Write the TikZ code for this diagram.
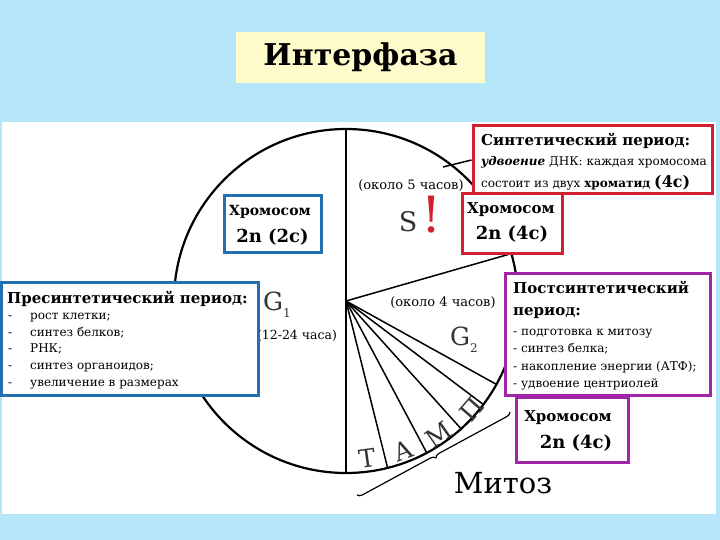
\documentclass[tikz,border=0pt]{standalone}
\usepackage{fontspec}
\setmainfont{DejaVu Serif}
\usetikzlibrary{decorations.pathreplacing}
\definecolor{skyback}{HTML}{B5E6F8}
\definecolor{titlefill}{HTML}{FFFCCC}
\definecolor{synred}{HTML}{D2202E}
\definecolor{preblue}{HTML}{2270B0}
\definecolor{postpurple}{HTML}{A426A8}
\definecolor{phasegrey}{HTML}{333333}

\begin{document}
\begin{tikzpicture}[x=1pt,y=-1pt,
   periodbox/.style={draw=#1,line width=3pt,fill=white,inner sep=0pt},
   sector/.style={line width=1.5pt},
   phase/.style={text=phasegrey,inner sep=0pt,font=\fontsize{25}{25}\selectfont},
   mitlbl/.style={phase,font=\fontsize{25}{25}\selectfont},
   hours/.style={inner sep=0pt,anchor=base,font=\fontsize{13}{13}\selectfont},
   boxhead/.style={inner sep=0pt,anchor=base west,font=\bfseries\fontsize{15}{15}\selectfont},
   listline/.style={inner sep=0pt,anchor=base west,font=\fontsize{12}{12}\selectfont},
   chromo/.style={inner sep=0pt,anchor=base,font=\bfseries\fontsize{15}{15}\selectfont},
   ploidy/.style={inner sep=0pt,anchor=base,font=\bfseries\fontsize{18}{18}\selectfont}]
\useasboundingbox (0,0) rectangle (720,540);
\fill[skyback] (0,0) rectangle (720,540);
\fill[white] (2,122) rectangle (716,514);

\node[fill=titlefill,minimum width=249pt,minimum height=51pt,inner sep=0pt,
      font=\bfseries\fontsize{30}{30}\selectfont] (title) at (360.5,57.5) {Интерфаза};

\coordinate (O) at (346,301);
\draw[line width=2.2pt] (O) circle[radius=172pt];
\draw[sector] (O) -- ++(-90:172);
\draw[sector] (O) -- ++(90:172);
\draw[sector] (O) -- ++(-16:172);
\foreach \a in {29,37,48,62,76}
   \draw[sector] (O) -- ++(\a:172);

\node[phase,font=\fontsize{27}{27}\selectfont] (S) at (408,222) {S};
\node[text=synred,inner sep=0pt,font=\fontsize{50}{50}\selectfont] (excl) at (432,215) {!};
\node[phase,anchor=base west] (G1) at (263,310) {G\raisebox{-7pt}{\fontsize{12}{12}\selectfont 1}};
\node[phase,anchor=base west] (G2) at (450,345) {G\raisebox{-7pt}{\fontsize{12}{12}\selectfont 2}};
\node[hours] (hS) at (411,190) {(около 5 часов)};
\node[hours] (hG2) at (443,306) {(около 4 часов)};
\node[hours,font=\fontsize{12.5}{12.5}\selectfont] (hG1) at (297,339) {(12-24 часа)};

\node[mitlbl,rotate=49] (pro) at (472,409) {П};
\node[mitlbl,rotate=35] (meta) at (439,435) {М};
\node[mitlbl,rotate=20] (ana) at (403,451) {А};
\node[mitlbl,rotate=8] (telo) at (367,458) {Т};

\draw[line width=1.2pt,decorate,decoration={brace,amplitude=5pt}] (510,412) -- (357,495);
\node[inner sep=0pt,anchor=base,font=\fontsize{29}{29}\selectfont] (mitosis) at (503,493) {Митоз};

\node[periodbox=preblue,minimum width=97pt,minimum height=56pt] (chromG1) at (272.5,224) {};
\node[chromo,font=\bfseries\fontsize{14}{14}\selectfont] at (270,215) {Хромосом};
\node[ploidy] at (272.5,243) {2n (2c)};

\node[periodbox=preblue,minimum width=256.5pt,minimum height=113pt] (prebox) at (129.75,338.5) {};
\node[boxhead] (prehead) at (7,303) {Пресинтетический период:};
\foreach \t [count=\i] in {рост клетки;,синтез белков;,РНК;,синтез органоидов;,увеличение в размерах}{
   \node[listline] at (8,303+16.6*\i) {-};
   \node[listline] (pre\i) at (30,303+16.6*\i) {\t};
}

\node[periodbox=synred,minimum width=239pt,minimum height=68pt] (synbox) at (592.5,160) {};
\node[boxhead] (synhead) at (481,146) {Синтетический период:};
\node[listline] (syn1) at (481,166) {\textbf{\textit{удвоение}} ДНК: каждая хромосома};
\node[listline] (syn2) at (481,188) {состоит из двух \textbf{хроматид} {\bfseries\fontsize{16}{16}\selectfont(4c)}};
\coordinate (sptr) at (443,167);
\draw[sector] (sptr) -- (synbox.west);

\node[periodbox=synred,minimum width=100pt,minimum height=59pt] (chromS) at (512,223.5) {};
\node[chromo,anchor=base west] at (467,214) {Хромосом};
\node[ploidy] at (512,240) {2n (4c)};

\node[periodbox=postpurple,minimum width=205pt,minimum height=122pt] (postbox) at (607.5,334) {};
\node[boxhead] (posthead) at (513,293) {Постсинтетический};
\node[boxhead] (posthead2) at (513,315) {период:};
\foreach \t [count=\i] in {подготовка к митозу,синтез белка;,накопление энергии (АТФ);,удвоение центриолей}
   \node[listline] (post\i) at (513,317.5+17.5*\i) {- \t};

\node[periodbox=postpurple,minimum width=112pt,minimum height=65pt] (chromG2) at (572,429.5) {};
\node[chromo] at (568,421) {Хромосом};
\node[ploidy] at (576,448) {2n (4c)};
\end{tikzpicture}
\end{document}
